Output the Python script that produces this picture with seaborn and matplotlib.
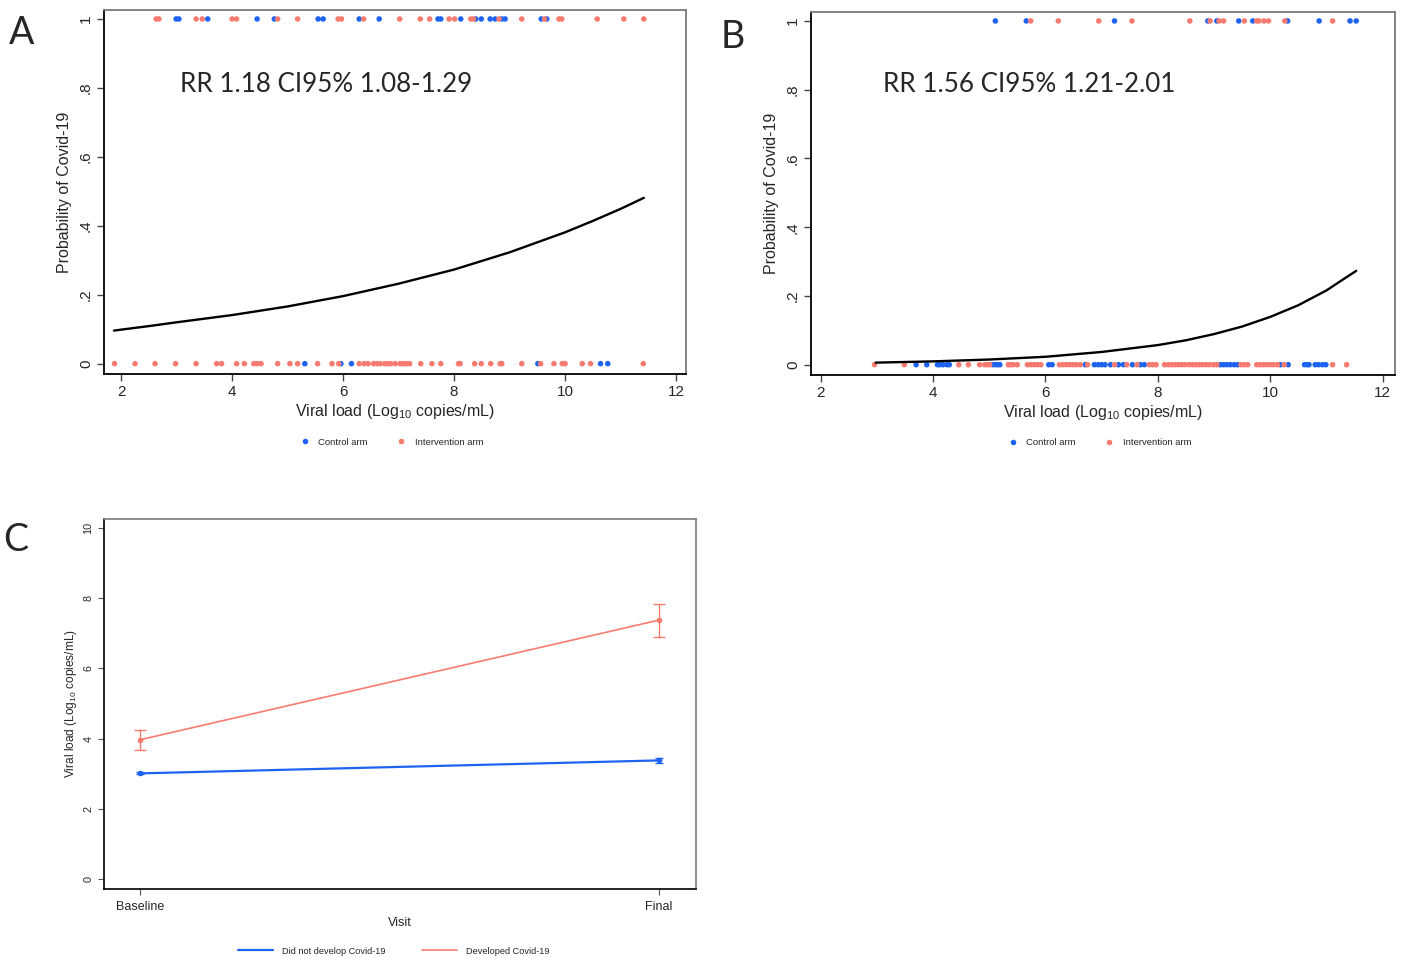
import matplotlib
matplotlib.use("Agg")
import matplotlib.pyplot as plt
import pandas as pd
import seaborn as sns

sns.set_style("white")
plt.rcParams["font.family"] = ["Liberation Sans", "DejaVu Sans"]
plt.rcParams["mathtext.fontset"] = "custom"
plt.rcParams["mathtext.rm"] = "Liberation Sans"
plt.rcParams["mathtext.default"] = "regular"

BLUE = "#1d63f2"
RED = "#f97b70"
W, H = 1406, 958

# Panel A - viral load of participants, split by outcome (1 = Covid-19) and arm
a_ctrl_pos = [2.99, 3.04, 3.56, 4.45, 4.76, 5.55, 5.64, 6.29, 6.65, 7.71, 7.76, 8.12,
              8.39, 8.49, 8.65, 8.74, 8.86, 8.92, 9.57, 9.67]
a_int_pos = [2.63, 2.68, 3.35, 3.46, 4.00, 4.08, 4.82, 5.18, 5.91, 5.97, 6.37, 7.02,
             7.39, 7.56, 7.91, 8.01, 8.30, 8.35, 8.81, 9.22, 9.63, 9.89, 9.94, 10.58,
             11.06, 11.42]
a_ctrl_neg = [5.31, 5.96, 6.15, 9.51, 10.64, 10.77]
a_int_neg = [1.88, 2.25, 2.61, 2.98, 3.35, 3.72, 3.81, 4.08, 4.22, 4.39, 4.45, 4.52,
             4.82, 5.04, 5.18, 5.54, 5.80, 5.92, 6.29, 6.38, 6.45, 6.55, 6.61, 6.67,
             6.75, 6.81, 6.86, 6.94, 7.03, 7.09, 7.14, 7.20, 7.40, 7.60, 7.76, 8.08,
             8.11, 8.37, 8.49, 8.66, 8.83, 8.86, 9.22, 9.56, 9.80, 9.95, 10.00, 10.31,
             10.46, 11.41]
a_curve_x = [1.87, 2.5, 3, 4, 5, 6, 7, 8, 9, 10, 10.5, 11, 11.42]
a_curve_y = [0.096, 0.109, 0.120, 0.141, 0.166, 0.196, 0.232, 0.273, 0.323, 0.381,
             0.414, 0.449, 0.481]
a_text = "RR 1.18 CI95% 1.08-1.29"

# Panel B
b_ctrl_pos = [5.11, 5.66, 7.23, 8.89, 9.05, 9.44, 9.69, 10.31, 10.87, 11.42, 11.53]
b_int_pos = [5.74, 6.23, 6.95, 7.54, 8.57, 8.93, 9.09, 9.17, 9.54, 9.76, 9.80, 9.89,
             9.97, 10.26, 11.11]
b_ctrl_neg = [3.70, 3.89, 4.08, 4.12, 4.18, 4.25, 4.29, 5.06, 5.11, 5.15, 5.19, 6.06,
              6.12, 6.71, 6.87, 6.94, 7.00, 7.06, 7.16, 7.30, 7.39, 7.55, 7.69, 7.76,
              9.11, 9.17, 9.23, 9.29, 9.36, 9.42, 10.18, 10.32, 10.61, 10.66, 10.69,
              10.80, 10.86, 10.93, 10.99]
b_int_neg = [2.96, 3.49, 4.46, 4.63, 4.83, 4.92, 4.97, 5.01, 5.34, 5.38, 5.43, 5.50,
             5.68, 5.74, 5.80, 5.86, 5.92, 6.25, 6.31, 6.37, 6.43, 6.49, 6.55, 6.62,
             6.75, 7.23, 7.45, 7.63, 7.85, 7.91, 7.97, 8.12, 8.19, 8.25, 8.31, 8.37,
             8.43, 8.49, 8.56, 8.62, 8.68, 8.74, 8.80, 8.86, 8.92, 8.99, 9.05, 9.48,
             9.54, 9.60, 9.76, 9.82, 9.88, 9.94, 10.00, 10.06, 10.13, 10.25, 11.11,
             11.36]
b_curve_x = [2.98, 4, 5, 6, 7, 8, 8.5, 9, 9.5, 10, 10.5, 11, 11.25, 11.53]
b_curve_y = [0.006, 0.0096, 0.015, 0.023, 0.037, 0.057, 0.071, 0.089, 0.111, 0.139,
             0.173, 0.216, 0.243, 0.273]
b_text = "RR 1.56 CI95% 1.21-2.01"

prob_ticks = [0, 0.2, 0.4, 0.6, 0.8, 1]
prob_labels = ["0", ".2", ".4", ".6", ".8", "1"]
load_ticks = [2, 4, 6, 8, 10, 12]

# Panel C - mean viral load with 95% CI by visit
visits = ["Baseline", "Final"]
no_covid_mean = [3.01, 3.38]
no_covid_lo = [2.98, 3.32]
no_covid_hi = [3.04, 3.45]
covid_mean = [3.97, 7.38]
covid_lo = [3.68, 6.91]
covid_hi = [4.26, 7.85]
c_ticks = [0, 2, 4, 6, 8, 10]

xlabel = "Viral load (Log$_{10}$ copies/mL)"


def ax_at(fig, l, t, r, b):
    return fig.add_axes([l / W, 1 - b / H, (r - l) / W, (b - t) / H])


def frame(ax, lw=1.3):
    for s in ["left", "bottom"]:
        ax.spines[s].set_color("black")
        ax.spines[s].set_linewidth(lw)
    for s in ["top", "right"]:
        ax.spines[s].set_color("#7a7a7a")
        ax.spines[s].set_linewidth(lw)


def prob_panel(ax, ctrl_pos, int_pos, ctrl_neg, int_neg, cx, cy, xlim):
    df = pd.DataFrame({
        "load": ctrl_pos + ctrl_neg + int_pos + int_neg,
        "covid": [1] * len(ctrl_pos) + [0] * len(ctrl_neg) + [1] * len(int_pos) + [0] * len(int_neg),
        "arm": ["Control arm"] * (len(ctrl_pos) + len(ctrl_neg))
               + ["Intervention arm"] * (len(int_pos) + len(int_neg)),
    })
    sns.scatterplot(data=df, x="load", y="covid", hue="arm", palette=[BLUE, RED],
                    s=16, linewidth=0, ax=ax, zorder=3)
    sns.lineplot(x=cx, y=cy, color="black", lw=1.7, ax=ax, zorder=4)
    ax.set_xlim(xlim)
    ax.set_ylim(-0.03, 1.026)
    ax.set_xticks(load_ticks)
    ax.set_yticks(prob_ticks)
    ax.set_yticklabels(prob_labels, rotation=90, va="center")
    ax.tick_params(bottom=True, left=True, direction="out", length=5, width=1,
                   color="#444444", labelsize=11, pad=3)
    ax.set_xlabel(xlabel, fontsize=11.5, labelpad=2)
    ax.set_ylabel("Probability of Covid-19", fontsize=11.5, labelpad=5)
    frame(ax)
    sns.move_legend(ax, "center", bbox_to_anchor=(0.49, -0.187), ncol=2, frameon=False,
                    title=None, fontsize=6.8, markerscale=1.0, handletextpad=0.4,
                    columnspacing=2.6)


fig = plt.figure(figsize=(W / 100, H / 100), dpi=100)

ax_a = ax_at(fig, 104, 10, 686, 374)
prob_panel(ax_a, a_ctrl_pos, a_int_pos, a_ctrl_neg, a_int_neg, a_curve_x, a_curve_y, (1.69, 12.18))

ax_b = ax_at(fig, 811, 12, 1395, 375)
prob_panel(ax_b, b_ctrl_pos, b_int_pos, b_ctrl_neg, b_int_neg, b_curve_x, b_curve_y, (1.83, 12.22))

# panel C
ax_c = ax_at(fig, 104, 519, 696, 889)
sns.lineplot(x=visits, y=no_covid_mean, color=BLUE, lw=1.6, ax=ax_c, label="Did not develop Covid-19")
sns.lineplot(x=visits, y=covid_mean, color=RED, lw=1.2, ax=ax_c, label="Developed Covid-19")
for mean, lo, hi, col, cap in [(no_covid_mean, no_covid_lo, no_covid_hi, BLUE, 3),
                               (covid_mean, covid_lo, covid_hi, RED, 4)]:
    err = [[m - l for m, l in zip(mean, lo)], [h - m for m, h in zip(mean, hi)]]
    ax_c.errorbar(visits, mean, yerr=err, fmt="o", ms=3, color=col, ecolor=col,
                  elinewidth=1, capsize=cap, capthick=1)
ax_c.set_xlim(-0.07, 1.071)
ax_c.set_ylim(-0.285, 10.26)
ax_c.set_yticks(c_ticks)
ax_c.set_yticklabels([str(t) for t in c_ticks], rotation=90, va="center")
ax_c.tick_params(bottom=True, left=True, direction="out", length=4.5, width=0.8,
                 color="#555555", pad=3)
ax_c.tick_params(axis="x", labelsize=9, pad=4)
ax_c.tick_params(axis="y", labelsize=7.8)
ax_c.set_xlabel("Visit", fontsize=9, labelpad=3)
ax_c.set_ylabel(xlabel, fontsize=8.6, labelpad=3)
frame(ax_c, lw=1.2)
ax_c.legend(loc="center", bbox_to_anchor=(0.49, -0.168), ncol=2, frameon=False,
            fontsize=6.6, handlelength=3.8, handletextpad=1.0, columnspacing=4.0)

# panel letters and RR annotations
fig.text(22 / W, 1 - 33 / H, "A", fontsize=27, family="Lato", ha="center", va="center")
fig.text(733 / W, 1 - 37 / H, "B", fontsize=27, family="Lato", ha="center", va="center")
fig.text(16 / W, 1 - 540 / H, "C", fontsize=27, family="Lato", ha="center", va="center")
fig.text(326 / W, 1 - 85 / H, a_text, fontsize=18.7, family="Lato", ha="center", va="center")
fig.text(1029 / W, 1 - 85 / H, b_text, fontsize=18.7, family="Lato", ha="center", va="center")

fig.savefig("out.png", dpi=100)
